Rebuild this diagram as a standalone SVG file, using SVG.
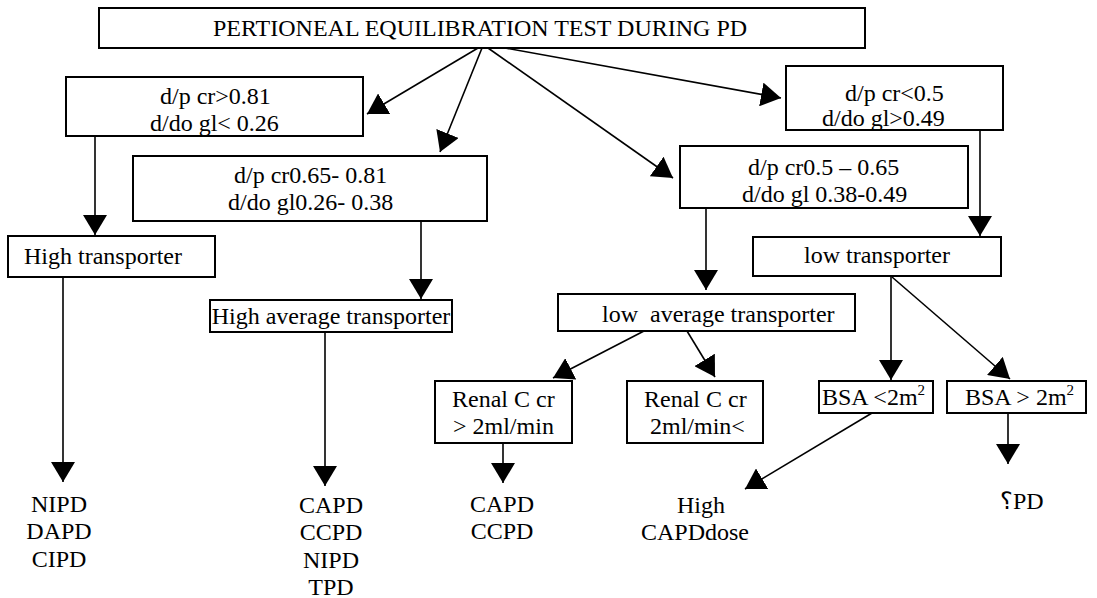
<svg xmlns="http://www.w3.org/2000/svg" width="1097" height="598" viewBox="0 0 1097 598">
<style>
text{font-family:"Liberation Serif","Times New Roman",serif;font-size:24px;fill:#000;white-space:pre}
.box{fill:#fff;stroke:#000;stroke-width:2}
.c{stroke:#000;stroke-width:1.6;fill:none;marker-end:url(#ah)}
.m{text-anchor:middle}
</style>
<defs>
<marker id="ah" viewBox="0 0 20 24" refX="20" refY="12" markerWidth="20" markerHeight="24" orient="auto" markerUnits="userSpaceOnUse">
<path d="M0,0 L20,12 L0,24 z" fill="#000"/>
</marker>
</defs>
<rect width="1097" height="598" fill="#fff"/>
<g id="connectors">
<line class="c" x1="478" y1="48" x2="367" y2="114"/>
<line class="c" x1="482" y1="48" x2="440" y2="152"/>
<line class="c" x1="488" y1="48" x2="673" y2="178"/>
<line class="c" x1="505" y1="48" x2="781" y2="98"/>
<line class="c" x1="95" y1="136" x2="95" y2="235"/>
<line class="c" x1="421" y1="221" x2="421" y2="299"/>
<line class="c" x1="706" y1="208" x2="706" y2="290"/>
<line class="c" x1="980" y1="130" x2="980" y2="236"/>
<line class="c" x1="63" y1="277" x2="63" y2="482"/>
<line class="c" x1="325" y1="332" x2="325" y2="486"/>
<line class="c" x1="644" y1="331" x2="553" y2="378"/>
<line class="c" x1="687" y1="331" x2="715" y2="377"/>
<line class="c" x1="891" y1="276" x2="891" y2="380"/>
<line class="c" x1="892" y1="277" x2="1010" y2="379"/>
<line class="c" x1="503" y1="443" x2="503" y2="483"/>
<line class="c" x1="872" y1="413" x2="745" y2="489"/>
<line class="c" x1="1008" y1="413" x2="1008" y2="464"/>
</g>
<g id="n-top"><rect class="box" x="99" y="8" width="766" height="40"/><text x="213" y="36">PERTIONEAL EQUILIBRATION TEST DURING PD</text></g>
<g id="n-a"><rect class="box" x="66" y="77" width="297" height="59"/><text x="160" y="104">d/p cr&gt;0.81</text><text x="150" y="131">d/do gl&lt; 0.26</text></g>
<g id="n-b"><rect class="box" x="133" y="156" width="354" height="65"/><text x="234" y="183">d/p cr0.65- 0.81</text><text x="228" y="210">d/do gl0.26- 0.38</text></g>
<g id="n-c"><rect class="box" x="680" y="146" width="288" height="62"/><text x="748" y="175">d/p cr0.5 – 0.65</text><text x="742" y="202">d/do gl 0.38-0.49</text></g>
<g id="n-d"><rect class="box" x="786" y="66" width="217" height="64"/><text x="845" y="101">d/p cr&lt;0.5</text><text x="822" y="126">d/do gl&gt;0.49</text></g>
<g id="n-ht"><rect class="box" x="8" y="236" width="207" height="41"/><text x="24" y="264">High transporter</text></g>
<g id="n-hat"><rect class="box" x="210" y="300" width="242" height="32"/><text class="m" x="331" y="324">High average transporter</text></g>
<g id="n-lat"><rect class="box" x="558" y="294" width="297" height="37"/><text x="602" y="322">low  average transporter</text></g>
<g id="n-lt"><rect class="box" x="753" y="237" width="248" height="39"/><text x="804" y="263">low transporter</text></g>
<g id="n-r1"><rect class="box" x="435" y="381" width="137" height="62"/><text x="452" y="407">Renal C cr</text><text x="453" y="434">&gt; 2ml/min</text></g>
<g id="n-r2"><rect class="box" x="627" y="381" width="136" height="62"/><text x="644" y="407">Renal C cr</text><text x="650" y="434">2ml/min&lt;</text></g>
<g id="n-bsa1"><rect class="box" x="819" y="381" width="114" height="32"/><text x="822" y="405">BSA &lt;2m<tspan font-size="15" dy="-10">2</tspan></text></g>
<g id="n-bsa2"><rect class="box" x="947" y="381" width="139" height="32"/><text x="965" y="405">BSA &gt; 2m<tspan font-size="15" dy="-10">2</tspan></text></g>
<g id="o-1"><text class="m" x="59" y="512">NIPD</text><text class="m" x="59" y="539">DAPD</text><text class="m" x="59" y="567">CIPD</text></g>
<g id="o-2"><text class="m" x="331" y="513">CAPD</text><text class="m" x="331" y="540">CCPD</text><text class="m" x="331" y="568">NIPD</text><text class="m" x="331" y="595">TPD</text></g>
<g id="o-3"><text class="m" x="502" y="512">CAPD</text><text class="m" x="502" y="539">CCPD</text></g>
<g id="o-4"><text x="677" y="513">High</text><text x="641" y="540">CAPDdose</text></g>
<g id="o-5"><text x="1000" y="509">؟PD</text></g>
</svg>
